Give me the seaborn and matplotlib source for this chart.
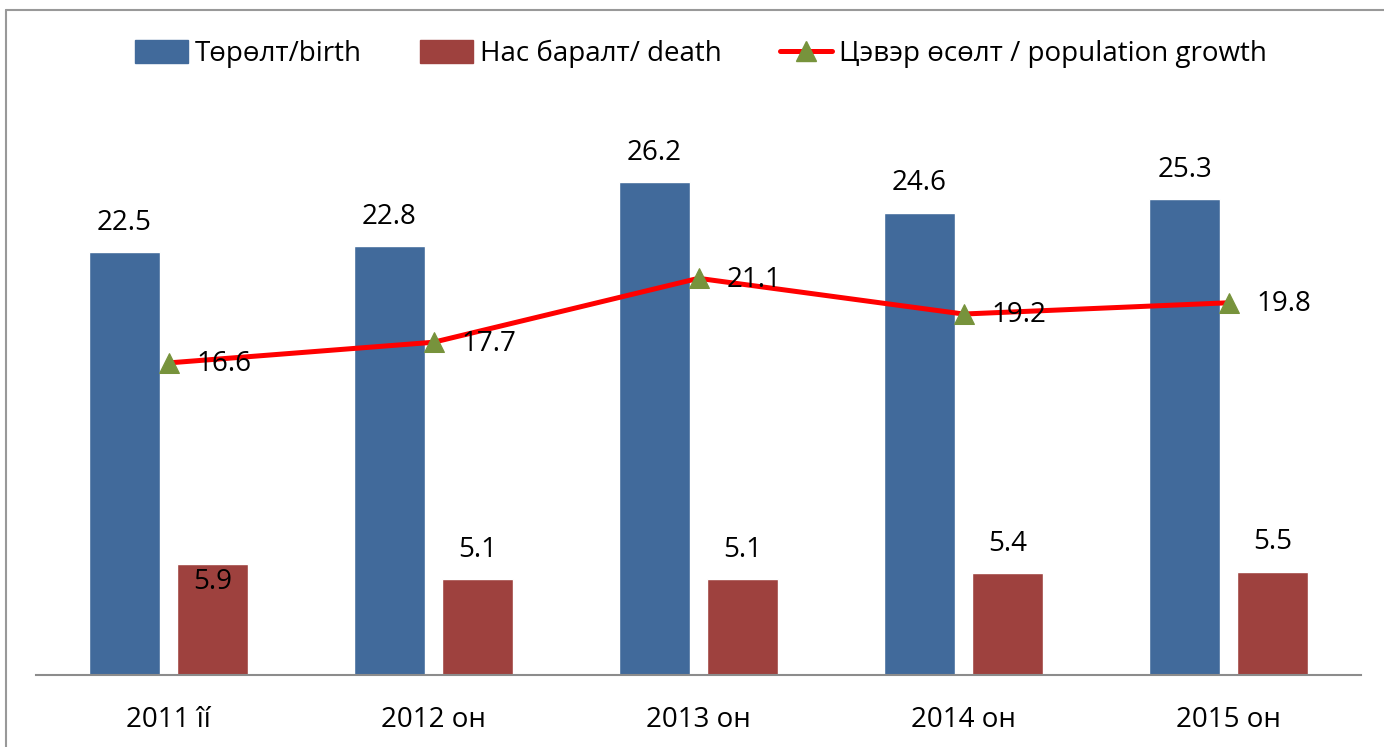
import matplotlib
matplotlib.use("Agg")
import matplotlib.pyplot as plt
import seaborn as sns
import pandas as pd
import numpy as np
from matplotlib.patches import Patch
from matplotlib.lines import Line2D

years = ['2011 îí', '2012 он', '2013 он', '2014 он', '2015 он']
birth = [22.5, 22.8, 26.2, 24.6, 25.3]
death = [5.9, 5.1, 5.1, 5.4, 5.5]
growth = [16.6, 17.7, 21.1, 19.2, 19.8]
series_names = ['Төрөлт/birth', 'Нас баралт/ death', 'Цэвэр өсөлт / population growth']

blue = '#416A9B'
red = '#9E413E'
green = '#77933C'

df = pd.DataFrame({
    'year': years * 2,
    'series': [series_names[0]] * 5 + [series_names[1]] * 5,
    'value': birth + death,
})

sns.set_style("white")
plt.rcParams['font.family'] = ['Open Sans', 'DejaVu Sans']
fs = 20

fig = plt.figure(figsize=(13.84, 7.47), dpi=100)
W, H = 1384, 747
ax = fig.add_axes([36 / W, 1 - 675 / H, 1325 / W, (675 - 111) / H])

sns.barplot(data=df, x='year', y='value', hue='series', palette=[blue, red],
            width=0.664, gap=0.2, saturation=1, legend=False, ax=ax)
sns.lineplot(x=np.arange(len(years)), y=growth, color='#FF0000', linewidth=3.6,
             marker='^', markersize=14, markerfacecolor=green, markeredgecolor=green,
             legend=False, ax=ax)

ax.set_xlim(-0.5, 4.5)
ax.set_ylim(0, 30)

# bar labels
for ci, cont in enumerate(ax.containers):
    for bar in cont:
        x = bar.get_x() + bar.get_width() / 2
        y = bar.get_height()
        off = 21
        if ci == 1 and y > 5.8:
            off = -13
        ax.annotate(f'{y:.1f}', (x, y), xytext=(0, off), textcoords='offset points',
                    ha='center', va='center', fontsize=fs, color='black')

# line labels
for i, v in enumerate(growth):
    ax.annotate(f'{v:.1f}', (i, v), xytext=(20, -1), textcoords='offset points',
                ha='left', va='center', fontsize=fs, color='black')

for s in ['left', 'top', 'right']:
    ax.spines[s].set_visible(False)
ax.spines['bottom'].set_color('#8C8C8C')
ax.spines['bottom'].set_linewidth(1.5)
ax.set_yticks([])
ax.set_xlabel('')
ax.set_ylabel('')
ax.tick_params(axis='x', length=0, pad=22, labelsize=fs, labelcolor='black')

handles = [
    Patch(facecolor=blue, edgecolor=blue),
    Patch(facecolor=red, edgecolor=red),
    Line2D([0], [0], color='#FF0000', linewidth=3.6, marker='^', markersize=14,
           markerfacecolor=green, markeredgecolor=green),
]
fig.legend(handles, series_names, loc='center', bbox_to_anchor=(0.5 + 9 / W, 1 - 54 / H),
           ncol=3, frameon=False, fontsize=fs, handlelength=1.9, handleheight=0.85,
           handletextpad=0.25, columnspacing=2.1, labelcolor='black')

# chart border
fig.add_artist(Line2D([6 / W, 6 / W], [0, 1 - 10 / H], color='#999999', linewidth=1.5,
                      transform=fig.transFigure))
fig.add_artist(Line2D([6 / W, 1], [1 - 10 / H, 1 - 10 / H], color='#999999', linewidth=1.5,
                      transform=fig.transFigure))

fig.savefig('out.png', dpi=100)
